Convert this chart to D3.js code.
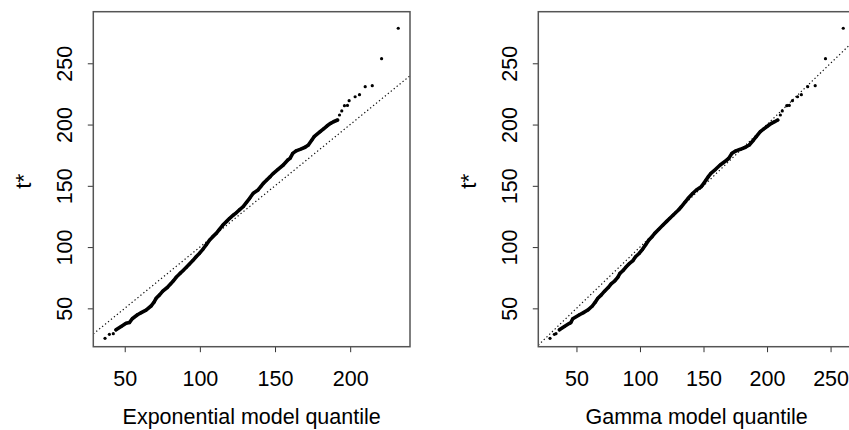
<!DOCTYPE html>
<html>
<head>
<meta charset="utf-8">
<script src="https://cdn.jsdelivr.net/npm/d3@7"></script>
<style>
  html, body { margin: 0; padding: 0; background: #fff; }
  svg { display: block; }
  text { font-family: "Liberation Sans", Arial, Helvetica, sans-serif; fill: #000; }
</style>
</head>
<body>
<svg id="chart" width="849" height="430"></svg>
<script>
// Sorted bootstrap replicates t* and the matching model quantiles
const tStar = [
  25.5, 28.8, 29.3, 32.5, 35.2, 37.8, 38.4, 41.5, 44.8, 46.5,
  48.6, 51.9, 55.0, 58.2, 61.0, 64.0, 67.0, 70.0, 72.5, 75.3,
  78.5, 80.7, 83.5, 86.2, 89.0, 92.1, 95.0, 98.2, 102.0, 105.8,
  108.5, 111.2, 114.5, 118.0, 121.0, 123.5, 126.0, 128.0, 130.5, 132.9,
  136.5, 139.8, 143.9, 146.6, 149.3, 152.0, 154.8, 157.5, 160.2, 163.5,
  167.0, 171.1, 172.4, 176.5, 178.5, 179.8, 181.5, 183.3, 187.4, 190.1,
  194.2, 196.5, 198.8, 201.0, 202.3, 203.7, 207.8, 211.1, 215.4, 215.6,
  219.5, 222.7, 224.4, 230.9, 231.7, 253.8, 278.6
];
const expQuantile = [
  36.9, 39.8, 42.4, 44.2, 47.6, 50.9, 53.1, 55.0, 58.5, 61.0,
  64.2, 67.5, 69.5, 70.9, 73.2, 75.3, 78.3, 80.6, 82.4, 84.2,
  86.8, 88.7, 91.0, 93.1, 95.3, 97.5, 99.8, 102.0, 104.3, 106.5,
  108.6, 110.9, 113.0, 115.3, 117.8, 119.8, 122.2, 124.2, 126.5, 128.7,
  131.0, 133.1, 135.5, 138.7, 140.5, 142.2, 144.5, 146.8, 148.9, 152.0,
  155.5, 158.5, 160.0, 161.8, 164.0, 166.7, 170.0, 172.2, 174.5, 176.0,
  180.0, 182.3, 184.5, 187.0, 188.9, 191.6, 192.9, 194.4, 196.2, 198.2,
  199.3, 203.3, 206.2, 210.0, 214.7, 220.9, 232.0
];
const gammaQuantile = [
  29.2, 32.6, 33.9, 36.6, 40.5, 44.5, 45.6, 47.1, 52.4, 55.5,
  58.9, 62.5, 64.8, 66.8, 69.6, 72.1, 75.0, 77.3, 80.2, 82.5,
  84.2, 86.5, 88.8, 91.3, 94.5, 96.5, 99.5, 102.0, 104.5, 107.0,
  109.5, 111.6, 114.8, 118.1, 121.0, 123.5, 126.0, 128.0, 130.5, 132.5,
  135.3, 137.9, 141.6, 144.4, 148.2, 150.2, 152.0, 153.8, 155.8, 159.5,
  163.1, 168.4, 169.8, 172.4, 175.5, 179.0, 183.0, 186.0, 189.4, 191.5,
  194.7, 197.5, 200.5, 203.5, 206.0, 208.4, 210.5, 212.0, 215.5, 217.5,
  220.0, 224.0, 227.0, 232.0, 237.9, 246.0, 260.0
];

// Axis ticks and limits
const expTicks = [50, 100, 150, 200];
const gammaTicks = [50, 100, 150, 200, 250];
const yTicks = [50, 100, 150, 200, 250];
const yLimits = [18.7, 292.1];

const panels = [
  { xq: expQuantile, ticks: expTicks, xlab: "Exponential model quantile", left: 93.3 },
  { xq: gammaQuantile, ticks: gammaTicks, xlab: "Gamma model quantile", left: 538.3 }
];

const svg = d3.select("#chart");
const plotW = 316.7, plotTop = 11.7, plotBottom = 346.7;
const FONT = 21.5;

// R-style limits: data range padded by 4% on each side
function padded(ext) {
  const d = ext[1] - ext[0];
  return [ext[0] - 0.04 * d, ext[1] + 0.04 * d];
}

const y = d3.scaleLinear().domain(yLimits).range([plotBottom, plotTop]);

panels.forEach((p, k) => {
  const x = d3.scaleLinear().domain(padded(d3.extent(p.xq))).range([p.left, p.left + plotW]);
  const g = svg.append("g");

  const clipId = "clip" + k;
  svg.append("clipPath").attr("id", clipId)
    .append("rect").attr("x", p.left).attr("y", plotTop)
    .attr("width", plotW).attr("height", plotBottom - plotTop);

  // reference line t* = quantile
  const dom = x.domain();
  g.append("line")
    .attr("clip-path", `url(#${clipId})`)
    .attr("x1", x(dom[0])).attr("y1", y(dom[0]))
    .attr("x2", x(dom[1])).attr("y2", y(dom[1]))
    .attr("stroke", "#111").attr("stroke-width", 1.2)
    .attr("stroke-dasharray", "1.3 2.5");

  const pts = tStar.map((t, i) => ({ q: p.xq[i], t }));

  // the central replicates overlap into a solid run
  const run = pts.filter(d => d.t >= 32 && d.t <= 204);
  g.append("path")
    .datum(run)
    .attr("d", d3.line().x(d => x(d.q)).y(d => y(d.t)))
    .attr("fill", "none").attr("stroke", "#000")
    .attr("stroke-width", 3.6).attr("stroke-linejoin", "round").attr("stroke-linecap", "round");

  g.selectAll("circle.pt").data(pts).join("circle")
    .attr("class", "pt")
    .attr("cx", d => x(d.q)).attr("cy", d => y(d.t))
    .attr("r", 1.6).attr("fill", "#000");

  // x axis
  const xa = g.append("g").attr("transform", `translate(0,${plotBottom})`)
    .call(d3.axisBottom(x).tickValues(p.ticks).tickSize(5.5).tickFormat(d3.format("d")));
  xa.select(".domain").remove();
  xa.selectAll(".tick line").attr("stroke", "#333").attr("stroke-width", 1);
  xa.selectAll(".tick text").attr("y", 39.8).attr("dy", 0)
    .style("font-size", FONT + "px").attr("fill", "#000");

  // y axis with labels parallel to the axis
  const ya = g.append("g").attr("transform", `translate(${p.left},0)`)
    .call(d3.axisLeft(y).tickValues(yTicks).tickSize(5.5).tickFormat(d3.format("d")));
  ya.select(".domain").remove();
  ya.selectAll(".tick line").attr("stroke", "#333").attr("stroke-width", 1);
  ya.selectAll(".tick text")
    .attr("x", null).attr("dy", 0).attr("text-anchor", "middle")
    .attr("transform", "translate(-21.8,0) rotate(-90)")
    .style("font-size", FONT + "px").attr("fill", "#000");

  // plot frame
  g.append("rect")
    .attr("x", p.left).attr("y", plotTop).attr("width", plotW).attr("height", plotBottom - plotTop)
    .attr("fill", "none").attr("stroke", "#555").attr("stroke-width", 1.5);

  // axis titles
  g.append("text")
    .attr("x", p.left + plotW / 2).attr("y", 423.5)
    .attr("text-anchor", "middle").style("font-size", FONT + "px")
    .text(p.xlab);
  g.append("text")
    .attr("transform", `translate(${p.left - 62},${(plotTop + plotBottom) / 2 + 2}) rotate(-90)`)
    .attr("text-anchor", "middle").style("font-size", (FONT + 1) + "px")
    .text("t*");
});
</script>
</body>
</html>
